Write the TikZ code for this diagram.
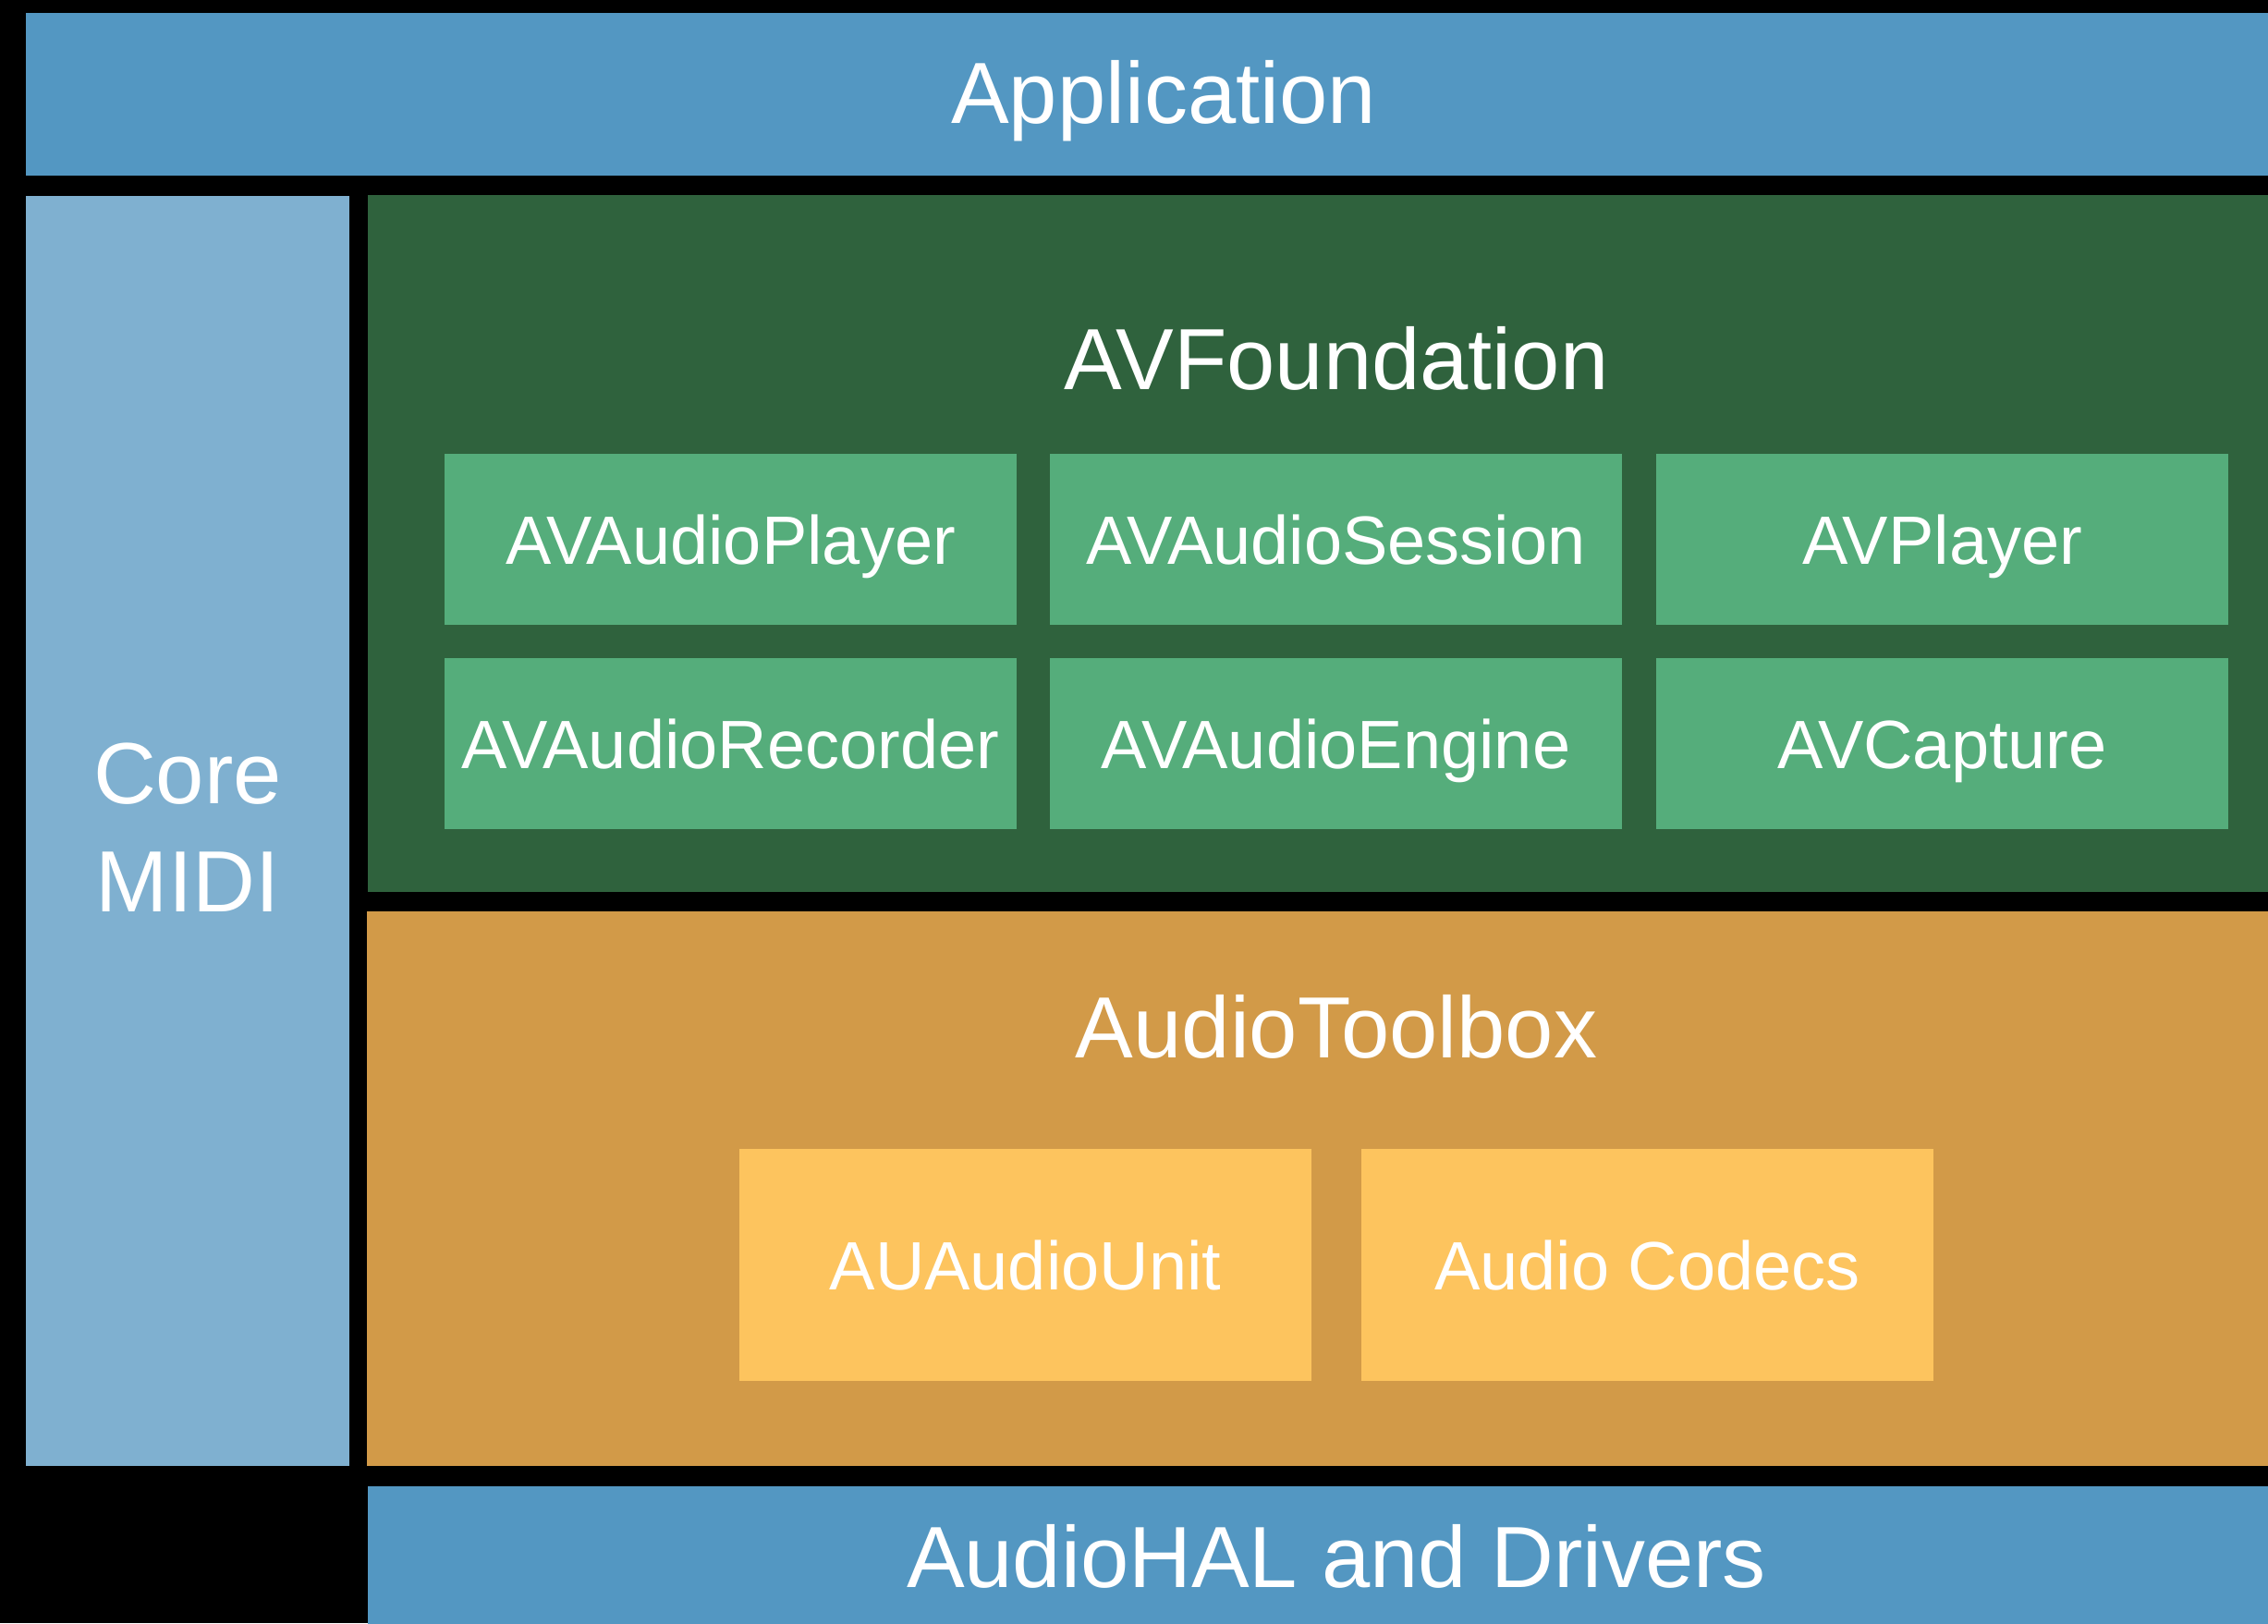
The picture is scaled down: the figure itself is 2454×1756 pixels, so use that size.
\documentclass[tikz,border=0pt]{standalone}
\usepackage{fontspec}
\setmainfont{Liberation Sans}
\definecolor{appblue}{HTML}{5397C2}
\definecolor{midiblue}{HTML}{7FB0D0}
\definecolor{avfgreen}{HTML}{2F623D}
\definecolor{avbox}{HTML}{55AD7B}
\definecolor{atborange}{HTML}{D29A48}
\definecolor{aubox}{HTML}{FDC45E}
\begin{document}
\begin{tikzpicture}[x=1pt,y=-1pt,
  panel/.style={draw=none, inner sep=0pt, outer sep=0pt, anchor=center},
  title/.style={font=\fontsize{94}{117}\selectfont, text=white, inner sep=0pt, anchor=base},
  cell/.style={panel, minimum width=619pt, minimum height=185pt, fill=avbox,
    font=\fontsize{74}{90}\selectfont, text=white, text height=53pt, text depth=0pt},
  ucell/.style={cell, minimum height=251pt, fill=aubox}]
  \useasboundingbox (0,0) rectangle (2454,1756);
  \fill[black] (0,0) rectangle (2454,1756);
  \clip (0,0) rectangle (2454,1756);

  % layer panels
  \node[panel, fill=appblue, minimum width=2462pt, minimum height=176pt] (app) at (1259,102) {};
  \node[panel, fill=midiblue, minimum width=350pt, minimum height=1374pt] (midi) at (203,899) {};
  \node[panel, fill=avfgreen, minimum width=2096pt, minimum height=754pt] (avf) at (1446,588) {};
  \node[panel, fill=atborange, minimum width=2097pt, minimum height=600pt] (atb) at (1445.5,1286) {};
  \node[panel, fill=appblue, minimum width=2096pt, minimum height=182pt] (hal) at (1446,1699) {};

  % layer titles
  \node[title] (apptxt) at (1259,133.7) {Application};
  \node[title] (miditxtA) at (203,869.5) {Core};
  \node[title] (miditxtB) at (203,986.5) {MIDI};
  \node[title] (avftxt) at (1446,421.7) {AVFoundation};
  \node[title] (atbtxt) at (1446,1144) {AudioToolbox};
  \node[title] (haltxt) at (1446,1717.7) {AudioHAL and Drivers};

  % AVFoundation classes
  \node[cell] (player)   at (790.5,583.5)  {AVAudioPlayer};
  \node[cell] (session)  at (1445.5,583.5) {AVAudioSession};
  \node[cell] (avplayer) at (2101.5,583.5) {AVPlayer};
  \node[cell] (recorder) at (790.5,804.5)  {AVAudioRecorder};
  \node[cell] (engine)   at (1445.5,804.5) {AVAudioEngine};
  \node[cell] (capture)  at (2101.5,804.5) {AVCapture};

  % AudioToolbox components
  \node[ucell] (auunit) at (1109.5,1368.5) {AUAudioUnit};
  \node[ucell] (codecs) at (1782.5,1368.5) {Audio Codecs};
\end{tikzpicture}
\end{document}
